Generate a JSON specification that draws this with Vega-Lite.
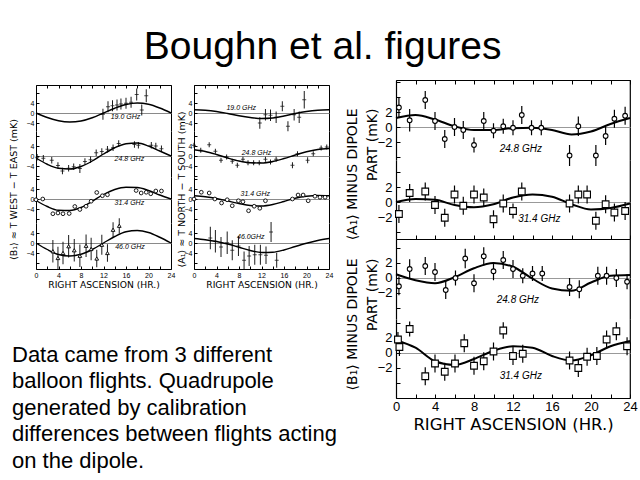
{
"$schema": "https://vega.github.io/schema/vega-lite/v6.json",
"background": "white",
"padding": {"left": 7, "top": 28, "right": 5, "bottom": 0},
"title": {"text": "Boughn et al. figures", "font": "Liberation Sans", "fontSize": 39, "fontWeight": "normal", "color": "black", "anchor": "middle", "offset": 8},
"config": {"view": {"stroke": null}, "axis": {"grid": false, "domainColor": "black", "tickColor": "black", "labelColor": "black", "titleColor": "black", "titleFontWeight": "normal", "labelFlush": false, "labelOverlap": false, "labelBound": false}},
"datasets": {
"notes": [{"line": 1, "t": "Data came from 3 different"}, {"line": 2, "t": "balloon flights.  Quadrupole"}, {"line": 3, "t": "generated by calibration"}, {"line": 4, "t": "differences between flights acting"}, {"line": 5, "t": "on the dipole."}],
"c_L1_19": [{"ra":0,"v":0},{"ra":2,"v":-1.8},{"ra":4,"v":-3.1},{"ra":6,"v":-3.6},{"ra":8,"v":-3.2},{"ra":10,"v":-1.9},{"ra":12,"v":0},{"ra":14,"v":1.9},{"ra":16,"v":3.4},{"ra":18,"v":4.0},{"ra":20,"v":3.5},{"ra":22,"v":2.0},{"ra":24,"v":0}],
"c_L1_24": [{"ra":0,"v":-0.8},{"ra":2,"v":-3.3},{"ra":4,"v":-4.9},{"ra":6,"v":-5.2},{"ra":8,"v":-4.2},{"ra":10,"v":-2.0},{"ra":12,"v":0.8},{"ra":14,"v":3.3},{"ra":16,"v":4.9},{"ra":18,"v":5.2},{"ra":20,"v":4.0},{"ra":22,"v":2.0},{"ra":24,"v":0}],
"c_L1_31": [{"ra":0,"v":-0.6},{"ra":2,"v":-3.0},{"ra":4,"v":-4.5},{"ra":6,"v":-4.6},{"ra":8,"v":-3.4},{"ra":10,"v":-0.9},{"ra":12,"v":1.8},{"ra":14,"v":3.8},{"ra":16,"v":4.7},{"ra":18,"v":4.6},{"ra":20,"v":3.4},{"ra":22,"v":1.6},{"ra":24,"v":0}],
"c_L1_46": [{"ra":0,"v":0},{"ra":2,"v":-2.6},{"ra":4,"v":-4.6},{"ra":6,"v":-5.2},{"ra":8,"v":-4.5},{"ra":10,"v":-2.6},{"ra":12,"v":0},{"ra":14,"v":2.6},{"ra":16,"v":4.5},{"ra":18,"v":5.0},{"ra":20,"v":4.2},{"ra":22,"v":2.3},{"ra":24,"v":0}],
"c_L2_19": [{"ra":0,"v":1.3},{"ra":2,"v":1.1},{"ra":4,"v":0.6},{"ra":6,"v":-0.2},{"ra":8,"v":-1.1},{"ra":10,"v":-1.8},{"ra":12,"v":-2.2},{"ra":14,"v":-2.0},{"ra":16,"v":-1.2},{"ra":18,"v":-0.2},{"ra":20,"v":0.6},{"ra":22,"v":1.1},{"ra":24,"v":1.3}],
"c_L2_24": [{"ra":0,"v":2.5},{"ra":2,"v":1.8},{"ra":4,"v":0.6},{"ra":6,"v":-0.8},{"ra":8,"v":-2.0},{"ra":10,"v":-2.7},{"ra":12,"v":-2.8},{"ra":14,"v":-2.2},{"ra":16,"v":-1.0},{"ra":18,"v":0.4},{"ra":20,"v":1.7},{"ra":22,"v":2.6},{"ra":24,"v":3.0}],
"c_L2_31": [{"ra":0,"v":1.3},{"ra":2,"v":0.9},{"ra":4,"v":0.2},{"ra":6,"v":-0.8},{"ra":8,"v":-1.8},{"ra":10,"v":-2.6},{"ra":12,"v":-2.8},{"ra":14,"v":-2.2},{"ra":16,"v":-1.0},{"ra":18,"v":0.3},{"ra":20,"v":1.1},{"ra":22,"v":1.4},{"ra":24,"v":1.3}],
"c_L2_46": [{"ra":0,"v":1.8},{"ra":2,"v":1.3},{"ra":4,"v":0.6},{"ra":6,"v":-0.4},{"ra":8,"v":-1.7},{"ra":10,"v":-3.0},{"ra":12,"v":-3.8},{"ra":14,"v":-3.7},{"ra":16,"v":-2.8},{"ra":18,"v":-1.4},{"ra":20,"v":-0.1},{"ra":22,"v":1.0},{"ra":24,"v":1.8}],
"c_A24": [{"ra":0,"v":1.2},{"ra":2,"v":1.6},{"ra":4,"v":1.0},{"ra":6,"v":0.1},{"ra":8,"v":-0.4},{"ra":10,"v":-0.4},{"ra":12,"v":-0.15},{"ra":14,"v":-0.1},{"ra":16,"v":-0.4},{"ra":18,"v":-1.0},{"ra":20,"v":-0.6},{"ra":22,"v":0.4},{"ra":24,"v":1.2}],
"c_A31": [{"ra":0,"v":0.0},{"ra":2,"v":0.4},{"ra":4,"v":0.3},{"ra":6,"v":-0.4},{"ra":8,"v":-0.7},{"ra":10,"v":-0.3},{"ra":12,"v":0.6},{"ra":14,"v":1.0},{"ra":16,"v":0.7},{"ra":18,"v":-0.3},{"ra":20,"v":-1.0},{"ra":22,"v":-0.8},{"ra":24,"v":-0.2}],
"c_B24": [{"ra":0,"v":0.5},{"ra":2,"v":-0.3},{"ra":4,"v":-0.7},{"ra":6,"v":0.1},{"ra":8,"v":1.3},{"ra":10,"v":2.0},{"ra":12,"v":1.5},{"ra":14,"v":-0.1},{"ra":16,"v":-1.4},{"ra":18,"v":-1.7},{"ra":20,"v":-0.6},{"ra":22,"v":0.3},{"ra":24,"v":0.4}],
"c_B31": [{"ra":0,"v":1.7},{"ra":2,"v":0.7},{"ra":4,"v":-1.1},{"ra":6,"v":-1.6},{"ra":8,"v":-0.8},{"ra":10,"v":0.3},{"ra":12,"v":0.9},{"ra":14,"v":0.7},{"ra":16,"v":-0.4},{"ra":18,"v":-1.0},{"ra":20,"v":-0.3},{"ra":22,"v":0.9},{"ra":24,"v":1.6}],
"p_L1_19": [{"ra":11.9,"v":-0.5,"lo":-2.7,"hi":1.7},{"ra":12.8,"v":2.5,"lo":0.3,"hi":4.7},{"ra":13.6,"v":2.9,"lo":0.7,"hi":5.1},{"ra":14.4,"v":3.2,"lo":1.0,"hi":5.4},{"ra":15.1,"v":3.6,"lo":1.4,"hi":5.8},{"ra":16.0,"v":3.9,"lo":1.7,"hi":6.1},{"ra":16.9,"v":4.3,"lo":2.1,"hi":6.5},{"ra":17.9,"v":7.4,"lo":5.0,"hi":9.8},{"ra":18.8,"v":1.2,"lo":-1.0,"hi":3.4},{"ra":19.6,"v":6.9,"lo":4.3,"hi":9.5}],
"p_L1_24": [{"ra":0.2,"v":-0.5,"lo":-1.8,"hi":0.8},{"ra":1.3,"v":-0.9,"lo":-2.2,"hi":0.4},{"ra":2.8,"v":-1.7,"lo":-3.0,"hi":-0.4},{"ra":3.9,"v":-3.8,"lo":-5.1,"hi":-2.5},{"ra":4.7,"v":-6.0,"lo":-7.3,"hi":-4.7},{"ra":5.8,"v":-4.9,"lo":-6.2,"hi":-3.6},{"ra":6.7,"v":-4.3,"lo":-5.6,"hi":-3.0},{"ra":7.8,"v":-5.0,"lo":-6.8,"hi":-3.2},{"ra":8.7,"v":-2.2,"lo":-3.5,"hi":-0.9},{"ra":9.7,"v":-1.5,"lo":-2.8,"hi":-0.2},{"ra":10.7,"v":1.3,"lo":0.0,"hi":2.6},{"ra":11.7,"v":1.8,"lo":0.5,"hi":3.1},{"ra":12.7,"v":2.7,"lo":1.4,"hi":4.0},{"ra":13.7,"v":3.3,"lo":2.0,"hi":4.6},{"ra":14.7,"v":5.0,"lo":3.7,"hi":6.3},{"ra":17.5,"v":4.6,"lo":3.3,"hi":5.9},{"ra":18.2,"v":4.3,"lo":3.0,"hi":5.6},{"ra":20.5,"v":4.3,"lo":3.0,"hi":5.6},{"ra":21.3,"v":4.0,"lo":2.7,"hi":5.3},{"ra":22.3,"v":2.9,"lo":1.6,"hi":4.2}],
"p_L1_31": [{"ra":0.0,"v":-0.3},{"ra":1.2,"v":0.0},{"ra":3.0,"v":-5.9},{"ra":3.9,"v":-5.6},{"ra":4.8,"v":-5.9},{"ra":5.9,"v":-5.8},{"ra":6.9,"v":-3.0},{"ra":7.8,"v":-4.2},{"ra":8.9,"v":-2.9},{"ra":9.8,"v":-0.9},{"ra":10.8,"v":2.6},{"ra":11.8,"v":1.3},{"ra":12.7,"v":1.7},{"ra":17.8,"v":3.4},{"ra":18.7,"v":2.4},{"ra":19.6,"v":2.7},{"ra":20.4,"v":2.1},{"ra":21.3,"v":3.2},{"ra":22.3,"v":3.2}],
"p_L1_46": [{"ra":3.0,"v":-3.3,"lo":-7.8,"hi":1.2},{"ra":3.9,"v":-6.0,"lo":-10.5,"hi":-1.5},{"ra":4.8,"v":-4.0,"lo":-8.5,"hi":0.5},{"ra":5.8,"v":-1.3,"lo":-5.8,"hi":3.2},{"ra":6.8,"v":-2.9,"lo":-7.4,"hi":1.6},{"ra":7.8,"v":-5.1,"lo":-9.6,"hi":-0.6},{"ra":8.9,"v":-1.1,"lo":-5.6,"hi":3.4},{"ra":9.8,"v":-2.4,"lo":-6.9,"hi":2.1},{"ra":10.8,"v":-6.2,"lo":-9.7,"hi":-2.7},{"ra":11.7,"v":-0.7,"lo":-4.7,"hi":3.3},{"ra":12.7,"v":-4.0,"lo":-7.5,"hi":-0.5},{"ra":13.7,"v":5.3,"lo":2.3,"hi":8.3},{"ra":14.8,"v":6.9,"lo":3.9,"hi":9.9}],
"p_L2_19": [{"ra":11.7,"v":-4.0,"lo":-6.3,"hi":-1.7},{"ra":12.7,"v":-0.7,"lo":-3.0,"hi":1.6},{"ra":13.6,"v":-0.9,"lo":-3.2,"hi":1.4},{"ra":14.6,"v":-1.7,"lo":-4.0,"hi":0.6},{"ra":15.7,"v":2.7,"lo":0.7,"hi":4.7},{"ra":16.7,"v":-5.3,"lo":-7.3,"hi":-3.3},{"ra":17.8,"v":-0.7,"lo":-3.0,"hi":1.6},{"ra":18.7,"v":-1.7,"lo":-4.0,"hi":0.6},{"ra":19.6,"v":5.3,"lo":1.8,"hi":8.8}],
"p_L2_24": [{"ra":0.0,"v":4.3,"lo":3.3,"hi":5.3},{"ra":1.2,"v":2.3,"lo":1.3,"hi":3.3},{"ra":2.7,"v":4.5,"lo":3.5,"hi":5.5},{"ra":3.8,"v":1.9,"lo":0.9,"hi":2.9},{"ra":4.8,"v":-1.7,"lo":-2.7,"hi":-0.7},{"ra":5.8,"v":-0.4,"lo":-1.4,"hi":0.6},{"ra":6.8,"v":-2.1,"lo":-3.1,"hi":-1.1},{"ra":7.7,"v":-3.7,"lo":-4.7,"hi":-2.7},{"ra":8.7,"v":-1.3,"lo":-2.3,"hi":-0.3},{"ra":9.6,"v":-2.7,"lo":-3.7,"hi":-1.7},{"ra":10.6,"v":-2.7,"lo":-3.7,"hi":-1.7},{"ra":11.6,"v":-2.7,"lo":-3.7,"hi":-1.7},{"ra":12.7,"v":-1.3,"lo":-2.3,"hi":-0.3},{"ra":13.6,"v":-2.4,"lo":-3.4,"hi":-1.4},{"ra":14.6,"v":-1.3,"lo":-2.3,"hi":-0.3},{"ra":17.5,"v":-3.7,"lo":-4.9,"hi":-2.5},{"ra":18.4,"v":0.9,"lo":-0.1,"hi":1.9},{"ra":20.2,"v":-1.7,"lo":-2.9,"hi":-0.5},{"ra":21.2,"v":0.9,"lo":-0.1,"hi":1.9},{"ra":22.6,"v":3.2,"lo":2.2,"hi":4.2},{"ra":23.6,"v":3.6,"lo":2.6,"hi":4.6}],
"p_L2_31": [{"ra":0.0,"v":0.0},{"ra":1.3,"v":2.7},{"ra":2.7,"v":2.4},{"ra":3.7,"v":0.0},{"ra":4.9,"v":-1.6},{"ra":5.9,"v":-0.3},{"ra":6.8,"v":-2.7},{"ra":7.9,"v":-0.7},{"ra":8.7,"v":-1.1},{"ra":9.7,"v":-4.7},{"ra":10.7,"v":-2.9},{"ra":11.7,"v":-3.7},{"ra":12.7,"v":-0.7},{"ra":17.5,"v":0.0},{"ra":18.5,"v":1.6},{"ra":19.4,"v":1.6},{"ra":20.3,"v":-0.7},{"ra":21.5,"v":1.1},{"ra":22.4,"v":0.7},{"ra":23.3,"v":0.7}],
"p_L2_46": [{"ra":2.9,"v":2.0,"lo":-2.5,"hi":6.5},{"ra":3.8,"v":0.7,"lo":-3.8,"hi":5.2},{"ra":4.8,"v":-1.6,"lo":-5.6,"hi":2.4},{"ra":5.9,"v":0.1,"lo":-4.4,"hi":4.6},{"ra":6.8,"v":-2.9,"lo":-6.9,"hi":1.1},{"ra":7.9,"v":-1.2,"lo":-5.2,"hi":2.8},{"ra":8.9,"v":-6.9,"lo":-10.4,"hi":-3.4},{"ra":9.8,"v":-5.2,"lo":-9.2,"hi":-1.2},{"ra":10.8,"v":-4.7,"lo":-8.7,"hi":-0.7},{"ra":11.8,"v":-4.7,"lo":-8.7,"hi":-0.7},{"ra":12.8,"v":-4.9,"lo":-8.4,"hi":-1.4},{"ra":13.7,"v":4.4,"lo":0.4,"hi":8.4},{"ra":14.7,"v":-6.9,"lo":-9.9,"hi":-3.9}],
"p_A24": [{"ra":0.3,"v":2.6,"lo":1.3,"hi":3.9},{"ra":1.4,"v":0.9,"lo":-0.6,"hi":2.4},{"ra":3.0,"v":3.6,"lo":2.4,"hi":4.8},{"ra":4.0,"v":0.8,"lo":-0.4,"hi":2.0},{"ra":5.0,"v":-1.6,"lo":-2.8,"hi":-0.4},{"ra":6.0,"v":0.0,"lo":-1.2,"hi":1.2},{"ra":6.9,"v":-0.4,"lo":-1.6,"hi":0.8},{"ra":8.0,"v":-2.4,"lo":-3.4,"hi":-1.4},{"ra":9.0,"v":0.8,"lo":-0.4,"hi":2.0},{"ra":10.0,"v":-0.5,"lo":-1.5,"hi":0.5},{"ra":11.0,"v":0.1,"lo":-0.9,"hi":1.1},{"ra":12.0,"v":-0.1,"lo":-1.1,"hi":0.9},{"ra":12.9,"v":1.6,"lo":0.4,"hi":2.8},{"ra":13.9,"v":-0.1,"lo":-1.1,"hi":0.9},{"ra":14.9,"v":-0.1,"lo":-1.1,"hi":0.9},{"ra":17.8,"v":-3.8,"lo":-5.2,"hi":-2.4},{"ra":18.7,"v":0.1,"lo":-1.2,"hi":1.4},{"ra":20.5,"v":-3.8,"lo":-5.2,"hi":-2.4},{"ra":21.5,"v":-1.2,"lo":-2.4,"hi":0.0},{"ra":22.4,"v":1.1,"lo":-0.1,"hi":2.3},{"ra":23.5,"v":1.5,"lo":0.3,"hi":2.7}],
"p_A31": [{"ra":0.3,"v":-1.6,"lo":-2.8,"hi":-0.4},{"ra":1.4,"v":1.2,"lo":0.0,"hi":2.4},{"ra":3.0,"v":1.4,"lo":0.2,"hi":2.6},{"ra":4.0,"v":-0.4,"lo":-1.6,"hi":0.8},{"ra":5.0,"v":-2.1,"lo":-3.3,"hi":-0.9},{"ra":6.0,"v":1.0,"lo":-0.2,"hi":2.2},{"ra":6.9,"v":-0.5,"lo":-1.7,"hi":0.7},{"ra":8.0,"v":1.0,"lo":-0.2,"hi":2.2},{"ra":9.0,"v":0.6,"lo":-0.6,"hi":1.8},{"ra":10.0,"v":-2.3,"lo":-3.5,"hi":-1.1},{"ra":11.0,"v":-0.2,"lo":-1.4,"hi":1.0},{"ra":12.0,"v":-1.2,"lo":-2.2,"hi":-0.2},{"ra":12.9,"v":1.4,"lo":0.2,"hi":2.6},{"ra":17.8,"v":-0.2,"lo":-1.4,"hi":1.0},{"ra":18.7,"v":1.0,"lo":-0.2,"hi":2.2},{"ra":19.6,"v":1.0,"lo":-0.2,"hi":2.2},{"ra":20.5,"v":-2.5,"lo":-3.7,"hi":-1.3},{"ra":21.5,"v":-0.3,"lo":-1.5,"hi":0.9},{"ra":22.4,"v":-1.4,"lo":-2.6,"hi":-0.2},{"ra":23.5,"v":-1.2,"lo":-2.4,"hi":0.0}],
"p_B24": [{"ra":0.3,"v":-1.1,"lo":-2.3,"hi":0.2},{"ra":1.4,"v":1.2,"lo":-0.1,"hi":2.5},{"ra":3.0,"v":1.6,"lo":0.4,"hi":2.8},{"ra":4.0,"v":0.8,"lo":-0.4,"hi":2.0},{"ra":5.1,"v":-1.6,"lo":-2.8,"hi":-0.4},{"ra":6.1,"v":0.0,"lo":-1.0,"hi":1.0},{"ra":7.1,"v":2.6,"lo":1.3,"hi":3.9},{"ra":8.0,"v":-0.7,"lo":-1.9,"hi":0.5},{"ra":9.0,"v":2.9,"lo":1.7,"hi":4.1},{"ra":10.0,"v":0.9,"lo":-0.3,"hi":2.1},{"ra":11.0,"v":2.4,"lo":1.2,"hi":3.6},{"ra":12.0,"v":1.2,"lo":0.0,"hi":2.4},{"ra":13.0,"v":0.3,"lo":-0.7,"hi":1.3},{"ra":14.0,"v":0.6,"lo":-0.4,"hi":1.6},{"ra":15.0,"v":0.6,"lo":-0.4,"hi":1.6},{"ra":17.8,"v":-1.2,"lo":-2.4,"hi":0.0},{"ra":18.8,"v":-1.5,"lo":-2.7,"hi":-0.3},{"ra":20.7,"v":0.3,"lo":-0.9,"hi":1.5},{"ra":21.6,"v":0.3,"lo":-0.9,"hi":1.5},{"ra":22.6,"v":0.0,"lo":-1.2,"hi":1.2},{"ra":23.7,"v":-0.5,"lo":-1.5,"hi":0.5}],
"p_B31": [{"ra":0.2,"v":1.8,"lo":0.8,"hi":2.8},{"ra":0.35,"v":0.8,"lo":-0.4,"hi":2.0},{"ra":1.4,"v":3.2,"lo":2.2,"hi":4.2},{"ra":3.0,"v":-3.1,"lo":-4.3,"hi":-1.9},{"ra":4.0,"v":-1.4,"lo":-2.6,"hi":-0.2},{"ra":5.0,"v":-2.5,"lo":-3.7,"hi":-1.3},{"ra":6.05,"v":-1.4,"lo":-2.6,"hi":-0.2},{"ra":7.0,"v":1.3,"lo":0.1,"hi":2.5},{"ra":8.0,"v":-1.7,"lo":-2.9,"hi":-0.5},{"ra":9.0,"v":-1.1,"lo":-2.3,"hi":0.1},{"ra":10.0,"v":0.2,"lo":-1.0,"hi":1.4},{"ra":11.0,"v":3.0,"lo":1.9,"hi":4.1},{"ra":12.0,"v":-0.4,"lo":-1.6,"hi":0.8},{"ra":13.0,"v":-0.1,"lo":-1.3,"hi":1.1},{"ra":17.8,"v":-1.0,"lo":-2.2,"hi":0.2},{"ra":18.7,"v":-2.0,"lo":-3.2,"hi":-0.8},{"ra":19.6,"v":-0.5,"lo":-1.7,"hi":0.7},{"ra":20.6,"v":-0.4,"lo":-1.6,"hi":0.8},{"ra":21.6,"v":1.8,"lo":0.6,"hi":3.0},{"ra":22.6,"v":2.9,"lo":1.7,"hi":4.1},{"ra":23.7,"v":0.9,"lo":-0.3,"hi":2.1}]
},
"hconcat": [
{"vconcat": [
 {"hconcat": [
  {"vconcat": [
   {"width": 135, "height": 5, "data": {"values": [{}]}, "mark": {"type": "text", "text": ""}, "encoding": {}},
   {"width": 135, "height": 46, "view": {"stroke": "black", "strokeWidth": 1, "strokeDash": [0, 135, 46, 181]},
    "encoding": {"x": {"field": "ra", "type": "quantitative", "scale": {"domain": [0, 24], "nice": false}, "axis": {"orient": "top", "values": [0,2,4,6,8,10,12,14,16,18,20,22,24], "labels": false, "tickSize": -3, "title": null}},
                 "y": {"field": "v", "type": "quantitative", "scale": {"domain": [-7.2, 11.2], "nice": false, "zero": false}, "axis": {"values": [-4, 0, 4, 8], "labelExpr": "abs(datum.value) <= 4 ? datum.label : ''", "tickSize": -3, "labelPadding": 5, "labelFontSize": 7, "labelFont": "Liberation Sans", "grid": true, "gridColor": {"condition": {"test": "datum.value === 0", "value": "#8a8a8a"}, "value": "transparent"}, "title": "⟨B₁⟩ ≈ T WEST − T EAST (mK)", "titleFont": "DejaVu Sans", "titleFontSize": 9.5, "titleAngle": 270, "titleAlign": "center", "titleBaseline": "middle", "titleX": -23, "titleY": 104}}},
    "layer": [
     {"data": {"name": "c_L1_19"}, "mark": {"type": "line", "interpolate": "monotone", "color": "black", "strokeWidth": 1.4}},
     {"data": {"name": "p_L1_19"}, "mark": {"type": "rule", "color": "black", "strokeWidth": 0.9}, "encoding": {"y2": {"field": "lo"}}},
     {"data": {"name": "p_L1_19"}, "mark": {"type": "rule", "color": "black", "strokeWidth": 0.9}, "encoding": {"y2": {"field": "hi"}}},
     {"data": {"name": "p_L1_19"}, "mark": {"type": "tick", "orient": "horizontal", "size": 4, "thickness": 1, "color": "black"}},
     {"data": {"values": [{"ra": 15.9, "v": -1.4, "t": "19.0 GHz"}]}, "mark": {"type": "text", "font": "Liberation Sans", "fontStyle": "italic", "fontSize": 7, "baseline": "middle", "color": "black"}, "encoding": {"text": {"field": "t"}}}
    ]},
   {"width": 135, "height": 46, "view": {"stroke": "black", "strokeWidth": 1, "strokeDash": [0, 135, 46, 181]},
    "encoding": {"x": {"field": "ra", "type": "quantitative", "scale": {"domain": [0, 24], "nice": false}, "axis": null},
                 "y": {"field": "v", "type": "quantitative", "scale": {"domain": [-8.4, 10], "nice": false, "zero": false}, "axis": {"values": [-8, -4, 0, 4, 8], "labelExpr": "abs(datum.value) <= 4 ? datum.label : ''", "tickSize": -3, "labelPadding": 5, "labelFontSize": 7, "labelFont": "Liberation Sans", "grid": true, "gridColor": {"condition": {"test": "datum.value === 0", "value": "#8a8a8a"}, "value": "transparent"}, "title": null}}},
    "layer": [
     {"data": {"name": "c_L1_24"}, "mark": {"type": "line", "interpolate": "monotone", "color": "black", "strokeWidth": 1.4}},
     {"data": {"name": "p_L1_24"}, "mark": {"type": "rule", "color": "black", "strokeWidth": 0.9}, "encoding": {"y2": {"field": "lo"}}},
     {"data": {"name": "p_L1_24"}, "mark": {"type": "rule", "color": "black", "strokeWidth": 0.9}, "encoding": {"y2": {"field": "hi"}}},
     {"data": {"name": "p_L1_24"}, "mark": {"type": "tick", "orient": "horizontal", "size": 4, "thickness": 1, "color": "black"}},
     {"data": {"values": [{"ra": 16.6, "v": -1.3, "t": "24.8 GHz"}]}, "mark": {"type": "text", "font": "Liberation Sans", "fontStyle": "italic", "fontSize": 7, "baseline": "middle", "color": "black"}, "encoding": {"text": {"field": "t"}}}
    ]},
   {"width": 135, "height": 46, "view": {"stroke": "black", "strokeWidth": 1, "strokeDash": [0, 135, 46, 181]},
    "encoding": {"x": {"field": "ra", "type": "quantitative", "scale": {"domain": [0, 24], "nice": false}, "axis": null},
                 "y": {"field": "v", "type": "quantitative", "scale": {"domain": [-9.6, 8.8], "nice": false, "zero": false}, "axis": {"values": [-8, -4, 0, 4, 8], "labelExpr": "abs(datum.value) <= 4 ? datum.label : ''", "tickSize": -3, "labelPadding": 5, "labelFontSize": 7, "labelFont": "Liberation Sans", "grid": true, "gridColor": {"condition": {"test": "datum.value === 0", "value": "#8a8a8a"}, "value": "transparent"}, "title": null}}},
    "layer": [
     {"data": {"name": "c_L1_31"}, "mark": {"type": "line", "interpolate": "monotone", "color": "black", "strokeWidth": 1.4}},
     {"data": {"name": "p_L1_31"}, "mark": {"type": "point", "shape": "circle", "filled": true, "fill": "white", "stroke": "black", "strokeWidth": 0.9, "size": 14, "opacity": 1}},
     {"data": {"values": [{"ra": 16.6, "v": -1.4, "t": "31.4 GHz"}]}, "mark": {"type": "text", "font": "Liberation Sans", "fontStyle": "italic", "fontSize": 7, "baseline": "middle", "color": "black"}, "encoding": {"text": {"field": "t"}}}
    ]},
   {"width": 135, "height": 46, "view": {"stroke": "black", "strokeWidth": 1, "strokeDash": [0, 135, 46, 181]},
    "encoding": {"x": {"field": "ra", "type": "quantitative", "scale": {"domain": [0, 24], "nice": false}, "axis": {"values": [0,2,4,6,8,10,12,14,16,18,20,22,24], "labelExpr": "datum.value % 4 === 0 ? datum.label : ''", "tickSize": -3, "labelPadding": 5, "labelFontSize": 7, "labelFont": "Liberation Sans", "title": "RIGHT ASCENSION (HR.)", "titleFont": "DejaVu Sans", "titleFontSize": 9.2, "titlePadding": 2}},
                 "y": {"field": "v", "type": "quantitative", "scale": {"domain": [-10.4, 8], "nice": false, "zero": false}, "axis": {"values": [-8, -4, 0, 4], "labelExpr": "abs(datum.value) <= 4 ? datum.label : ''", "tickSize": -3, "labelPadding": 5, "labelFontSize": 7, "labelFont": "Liberation Sans", "grid": true, "gridColor": {"condition": {"test": "datum.value === 0", "value": "#8a8a8a"}, "value": "transparent"}, "title": null}}},
    "layer": [
     {"data": {"name": "c_L1_46"}, "mark": {"type": "line", "interpolate": "monotone", "color": "black", "strokeWidth": 1.4}},
     {"data": {"name": "p_L1_46"}, "mark": {"type": "rule", "color": "black", "strokeWidth": 0.9}, "encoding": {"y2": {"field": "lo"}}},
     {"data": {"name": "p_L1_46"}, "mark": {"type": "rule", "color": "black", "strokeWidth": 0.9}, "encoding": {"y2": {"field": "hi"}}},
     {"data": {"name": "p_L1_46"}, "mark": {"type": "point", "shape": "triangle-up", "filled": true, "fill": "white", "stroke": "black", "strokeWidth": 0.9, "size": 14, "opacity": 1}},
     {"data": {"values": [{"ra": 16.7, "v": -1.6, "t": "46.0 GHz"}]}, "mark": {"type": "text", "font": "Liberation Sans", "fontStyle": "italic", "fontSize": 7, "baseline": "middle", "color": "black"}, "encoding": {"text": {"field": "t"}}}
    ]}
  ], "spacing": 0, "bounds": "flush"},
  {"vconcat": [
   {"width": 135, "height": 5, "data": {"values": [{}]}, "mark": {"type": "text", "text": ""}, "encoding": {}},
   {"width": 135, "height": 46, "view": {"stroke": "black", "strokeWidth": 1, "strokeDash": [0, 135, 46, 181]},
    "encoding": {"x": {"field": "ra", "type": "quantitative", "scale": {"domain": [0, 24], "nice": false}, "axis": {"orient": "top", "values": [0,2,4,6,8,10,12,14,16,18,20,22,24], "labels": false, "tickSize": -3, "title": null}},
                 "y": {"field": "v", "type": "quantitative", "scale": {"domain": [-7.2, 11.2], "nice": false, "zero": false}, "axis": {"values": [-4, 0, 4, 8], "labelExpr": "abs(datum.value) <= 4 ? datum.label : ''", "tickSize": -3, "labelPadding": 5, "labelFontSize": 7, "labelFont": "Liberation Sans", "grid": true, "gridColor": {"condition": {"test": "datum.value === 0", "value": "#8a8a8a"}, "value": "transparent"}, "title": "⟨A₁⟩ ≈ T NORTH − T SOUTH (mK)", "titleFont": "DejaVu Sans", "titleFontSize": 9.5, "titleAngle": 270, "titleAlign": "center", "titleBaseline": "middle", "titleX": -13, "titleY": 104}}},
    "layer": [
     {"data": {"name": "c_L2_19"}, "mark": {"type": "line", "interpolate": "monotone", "color": "black", "strokeWidth": 1.4}},
     {"data": {"name": "p_L2_19"}, "mark": {"type": "rule", "color": "black", "strokeWidth": 0.9}, "encoding": {"y2": {"field": "lo"}}},
     {"data": {"name": "p_L2_19"}, "mark": {"type": "rule", "color": "black", "strokeWidth": 0.9}, "encoding": {"y2": {"field": "hi"}}},
     {"data": {"name": "p_L2_19"}, "mark": {"type": "tick", "orient": "horizontal", "size": 4, "thickness": 1, "color": "black"}},
     {"data": {"values": [{"ra": 8.4, "v": 1.9, "t": "19.0 GHz"}]}, "mark": {"type": "text", "font": "Liberation Sans", "fontStyle": "italic", "fontSize": 7, "baseline": "middle", "color": "black"}, "encoding": {"text": {"field": "t"}}}
    ]},
   {"width": 135, "height": 46, "view": {"stroke": "black", "strokeWidth": 1, "strokeDash": [0, 135, 46, 181]},
    "encoding": {"x": {"field": "ra", "type": "quantitative", "scale": {"domain": [0, 24], "nice": false}, "axis": null},
                 "y": {"field": "v", "type": "quantitative", "scale": {"domain": [-8.4, 10], "nice": false, "zero": false}, "axis": {"values": [-8, -4, 0, 4, 8], "labelExpr": "abs(datum.value) <= 4 ? datum.label : ''", "tickSize": -3, "labelPadding": 5, "labelFontSize": 7, "labelFont": "Liberation Sans", "grid": true, "gridColor": {"condition": {"test": "datum.value === 0", "value": "#8a8a8a"}, "value": "transparent"}, "title": null}}},
    "layer": [
     {"data": {"name": "c_L2_24"}, "mark": {"type": "line", "interpolate": "monotone", "color": "black", "strokeWidth": 1.4}},
     {"data": {"name": "p_L2_24"}, "mark": {"type": "rule", "color": "black", "strokeWidth": 0.9}, "encoding": {"y2": {"field": "lo"}}},
     {"data": {"name": "p_L2_24"}, "mark": {"type": "rule", "color": "black", "strokeWidth": 0.9}, "encoding": {"y2": {"field": "hi"}}},
     {"data": {"name": "p_L2_24"}, "mark": {"type": "tick", "orient": "horizontal", "size": 4, "thickness": 1, "color": "black"}},
     {"data": {"values": [{"ra": 11.1, "v": 1.4, "t": "24.8 GHz"}]}, "mark": {"type": "text", "font": "Liberation Sans", "fontStyle": "italic", "fontSize": 7, "baseline": "middle", "color": "black"}, "encoding": {"text": {"field": "t"}}}
    ]},
   {"width": 135, "height": 46, "view": {"stroke": "black", "strokeWidth": 1, "strokeDash": [0, 135, 46, 181]},
    "encoding": {"x": {"field": "ra", "type": "quantitative", "scale": {"domain": [0, 24], "nice": false}, "axis": null},
                 "y": {"field": "v", "type": "quantitative", "scale": {"domain": [-9.6, 8.8], "nice": false, "zero": false}, "axis": {"values": [-8, -4, 0, 4, 8], "labelExpr": "abs(datum.value) <= 4 ? datum.label : ''", "tickSize": -3, "labelPadding": 5, "labelFontSize": 7, "labelFont": "Liberation Sans", "grid": true, "gridColor": {"condition": {"test": "datum.value === 0", "value": "#8a8a8a"}, "value": "transparent"}, "title": null}}},
    "layer": [
     {"data": {"name": "c_L2_31"}, "mark": {"type": "line", "interpolate": "monotone", "color": "black", "strokeWidth": 1.4}},
     {"data": {"name": "p_L2_31"}, "mark": {"type": "point", "shape": "circle", "filled": true, "fill": "white", "stroke": "black", "strokeWidth": 0.9, "size": 14, "opacity": 1}},
     {"data": {"values": [{"ra": 10.9, "v": 2.2, "t": "31.4 GHz"}]}, "mark": {"type": "text", "font": "Liberation Sans", "fontStyle": "italic", "fontSize": 7, "baseline": "middle", "color": "black"}, "encoding": {"text": {"field": "t"}}}
    ]},
   {"width": 135, "height": 46, "view": {"stroke": "black", "strokeWidth": 1, "strokeDash": [0, 135, 46, 181]},
    "encoding": {"x": {"field": "ra", "type": "quantitative", "scale": {"domain": [0, 24], "nice": false}, "axis": {"values": [0,2,4,6,8,10,12,14,16,18,20,22,24], "labelExpr": "datum.value % 4 === 0 ? datum.label : ''", "tickSize": -3, "labelPadding": 5, "labelFontSize": 7, "labelFont": "Liberation Sans", "title": "RIGHT ASCENSION (HR.)", "titleFont": "DejaVu Sans", "titleFontSize": 9.2, "titlePadding": 2}},
                 "y": {"field": "v", "type": "quantitative", "scale": {"domain": [-10.4, 8], "nice": false, "zero": false}, "axis": {"values": [-8, -4, 0, 4], "labelExpr": "abs(datum.value) <= 4 ? datum.label : ''", "tickSize": -3, "labelPadding": 5, "labelFontSize": 7, "labelFont": "Liberation Sans", "grid": true, "gridColor": {"condition": {"test": "datum.value === 0", "value": "#8a8a8a"}, "value": "transparent"}, "title": null}}},
    "layer": [
     {"data": {"name": "c_L2_46"}, "mark": {"type": "line", "interpolate": "monotone", "color": "black", "strokeWidth": 1.4}},
     {"data": {"name": "p_L2_46"}, "mark": {"type": "rule", "color": "black", "strokeWidth": 0.9}, "encoding": {"y2": {"field": "lo"}}},
     {"data": {"name": "p_L2_46"}, "mark": {"type": "rule", "color": "black", "strokeWidth": 0.9}, "encoding": {"y2": {"field": "hi"}}},
     {"data": {"name": "p_L2_46"}, "mark": {"type": "tick", "orient": "horizontal", "size": 4, "thickness": 1, "color": "black"}},
     {"data": {"values": [{"ra": 10.1, "v": 2.5, "t": "46.0GHz"}]}, "mark": {"type": "text", "font": "Liberation Sans", "fontStyle": "italic", "fontSize": 7, "baseline": "middle", "color": "black"}, "encoding": {"text": {"field": "t"}}}
    ]}
  ], "spacing": 0, "bounds": "flush"}
 ], "spacing": 158, "bounds": "flush"},
 {"width": 300, "height": 208, "data": {"name": "notes"},
  "mark": {"type": "text", "align": "left", "baseline": "alphabetic", "font": "Liberation Sans", "fontSize": 22, "color": "black", "dx": -24},
  "encoding": {"x": {"datum": 0, "scale": {"domain": [0, 1]}, "axis": null},
               "y": {"field": "line", "type": "quantitative", "scale": {"domain": [-2.523, 5.356], "reverse": true, "nice": false, "zero": false}, "axis": null},
               "text": {"field": "t"}}}
], "spacing": 189, "bounds": "flush"},
{"vconcat": [
 {"width": 234, "height": 80, "view": {"stroke": "black", "strokeWidth": 1.2, "strokeDash": [0, 234, 80, 314]},
  "encoding": {"x": {"field": "ra", "type": "quantitative", "scale": {"domain": [0, 24], "nice": false}, "axis": {"orient": "top", "values": [0,2,4,6,8,10,12,14,16,18,20,22,24], "labels": false, "tickSize": -4, "title": null, "domainWidth": 1.2}},
               "y": {"field": "v", "type": "quantitative", "scale": {"domain": [-4.4, 6.27], "nice": false, "zero": false}, "axis": {"values": [-4, -2, 0, 2, 4, 6], "labelExpr": "abs(datum.value) <= 2 ? datum.label : ''", "tickSize": -4, "labelPadding": 8, "labelFontSize": 13, "labelFont": "Liberation Sans", "domainWidth": 1.2, "grid": true, "gridColor": {"condition": {"test": "datum.value === 0", "value": "#999999"}, "value": "transparent"}, "title": ["⟨A₁⟩ MINUS DIPOLE", "PART (mK)"], "titleFont": "DejaVu Sans", "titleFontSize": 14, "titleLineHeight": 20, "titleAngle": 270, "titleAlign": "right", "titleBaseline": "top", "titleX": -51, "titleY": 28}}},
  "layer": [
   {"data": {"name": "c_A24"}, "mark": {"type": "line", "interpolate": "monotone", "color": "black", "strokeWidth": 2}},
   {"data": {"name": "p_A24"}, "mark": {"type": "rule", "color": "black", "strokeWidth": 1.2}, "encoding": {"y2": {"field": "lo"}}},
   {"data": {"name": "p_A24"}, "mark": {"type": "rule", "color": "black", "strokeWidth": 1.2}, "encoding": {"y2": {"field": "hi"}}},
   {"data": {"name": "p_A24"}, "mark": {"type": "point", "shape": "circle", "filled": true, "fill": "white", "stroke": "black", "strokeWidth": 1.1, "size": 22, "opacity": 1}},
   {"data": {"values": [{"ra": 12.8, "v": -2.9, "t": "24.8 GHz"}]}, "mark": {"type": "text", "font": "Liberation Sans", "fontStyle": "italic", "fontSize": 10, "baseline": "middle", "color": "black"}, "encoding": {"text": {"field": "t"}}}
  ]},
 {"width": 234, "height": 79, "view": {"stroke": "black", "strokeWidth": 1.2, "strokeDash": [0, 234, 79, 313]},
  "encoding": {"x": {"field": "ra", "type": "quantitative", "scale": {"domain": [0, 24], "nice": false}, "axis": {"values": [0,2,4,6,8,10,12,14,16,18,20,22,24], "labels": false, "tickSize": -4, "title": null, "domainWidth": 1.2}},
               "y": {"field": "v", "type": "quantitative", "scale": {"domain": [-4.93, 5.6], "nice": false, "zero": false}, "axis": {"values": [-4, -2, 0, 2, 4], "labelExpr": "abs(datum.value) <= 2 ? datum.label : ''", "tickSize": -4, "labelPadding": 8, "labelFontSize": 13, "labelFont": "Liberation Sans", "domainWidth": 1.2, "grid": true, "gridColor": {"condition": {"test": "datum.value === 0", "value": "#999999"}, "value": "transparent"}, "title": null}}},
  "layer": [
   {"data": {"name": "c_A31"}, "mark": {"type": "line", "interpolate": "monotone", "color": "black", "strokeWidth": 2}},
   {"data": {"name": "p_A31"}, "mark": {"type": "rule", "color": "black", "strokeWidth": 1.2}, "encoding": {"y2": {"field": "lo"}}},
   {"data": {"name": "p_A31"}, "mark": {"type": "rule", "color": "black", "strokeWidth": 1.2}, "encoding": {"y2": {"field": "hi"}}},
   {"data": {"name": "p_A31"}, "mark": {"type": "point", "shape": "square", "filled": true, "fill": "white", "stroke": "black", "strokeWidth": 1.1, "size": 45, "opacity": 1}},
   {"data": {"values": [{"ra": 14.7, "v": -2.3, "t": "31.4 GHz"}]}, "mark": {"type": "text", "font": "Liberation Sans", "fontStyle": "italic", "fontSize": 10, "baseline": "middle", "color": "black"}, "encoding": {"text": {"field": "t"}}}
  ]},
 {"width": 234, "height": 80, "view": {"stroke": "black", "strokeWidth": 1.2, "strokeDash": [0, 234, 80, 314]},
  "encoding": {"x": {"field": "ra", "type": "quantitative", "scale": {"domain": [0, 24], "nice": false}, "axis": null},
               "y": {"field": "v", "type": "quantitative", "scale": {"domain": [-5.47, 5.2], "nice": false, "zero": false}, "axis": {"values": [-4, -2, 0, 2, 4], "labelExpr": "abs(datum.value) <= 2 ? datum.label : ''", "tickSize": -4, "labelPadding": 8, "labelFontSize": 13, "labelFont": "Liberation Sans", "domainWidth": 1.2, "grid": true, "gridColor": {"condition": {"test": "datum.value === 0", "value": "#999999"}, "value": "transparent"}, "title": ["⟨B₁⟩ MINUS DIPOLE", "PART (mK)"], "titleFont": "DejaVu Sans", "titleFontSize": 14, "titleLineHeight": 20, "titleAngle": 270, "titleAlign": "right", "titleBaseline": "top", "titleX": -51, "titleY": 19}}},
  "layer": [
   {"data": {"name": "c_B24"}, "mark": {"type": "line", "interpolate": "monotone", "color": "black", "strokeWidth": 2}},
   {"data": {"name": "p_B24"}, "mark": {"type": "rule", "color": "black", "strokeWidth": 1.2}, "encoding": {"y2": {"field": "lo"}}},
   {"data": {"name": "p_B24"}, "mark": {"type": "rule", "color": "black", "strokeWidth": 1.2}, "encoding": {"y2": {"field": "hi"}}},
   {"data": {"name": "p_B24"}, "mark": {"type": "point", "shape": "circle", "filled": true, "fill": "white", "stroke": "black", "strokeWidth": 1.1, "size": 22, "opacity": 1}},
   {"data": {"values": [{"ra": 12.5, "v": -3.0, "t": "24.8 GHz"}]}, "mark": {"type": "text", "font": "Liberation Sans", "fontStyle": "italic", "fontSize": 10, "baseline": "middle", "color": "black"}, "encoding": {"text": {"field": "t"}}}
  ]},
 {"width": 234, "height": 79, "view": {"stroke": "black", "strokeWidth": 1.2, "strokeDash": [0, 234, 79, 313]},
  "encoding": {"x": {"field": "ra", "type": "quantitative", "scale": {"domain": [0, 24], "nice": false}, "axis": {"values": [0,2,4,6,8,10,12,14,16,18,20,22,24], "labelExpr": "datum.value % 4 === 0 ? datum.label : ''", "tickSize": -4, "labelPadding": 6, "labelFontSize": 13, "labelFont": "Liberation Sans", "title": "RIGHT ASCENSION (HR.)", "titleFont": "DejaVu Sans", "titleFontSize": 16.5, "titlePadding": 3, "domainWidth": 1.2}},
               "y": {"field": "v", "type": "quantitative", "scale": {"domain": [-6, 4.53], "nice": false, "zero": false}, "axis": {"values": [-6, -4, -2, 0, 2, 4], "labelExpr": "abs(datum.value) <= 2 ? datum.label : ''", "tickSize": -4, "labelPadding": 8, "labelFontSize": 13, "labelFont": "Liberation Sans", "domainWidth": 1.2, "grid": true, "gridColor": {"condition": {"test": "datum.value === 0", "value": "#999999"}, "value": "transparent"}, "title": null}}},
  "layer": [
   {"data": {"name": "c_B31"}, "mark": {"type": "line", "interpolate": "monotone", "color": "black", "strokeWidth": 2}},
   {"data": {"name": "p_B31"}, "mark": {"type": "rule", "color": "black", "strokeWidth": 1.2}, "encoding": {"y2": {"field": "lo"}}},
   {"data": {"name": "p_B31"}, "mark": {"type": "rule", "color": "black", "strokeWidth": 1.2}, "encoding": {"y2": {"field": "hi"}}},
   {"data": {"name": "p_B31"}, "mark": {"type": "point", "shape": "square", "filled": true, "fill": "white", "stroke": "black", "strokeWidth": 1.1, "size": 45, "opacity": 1}},
   {"data": {"values": [{"ra": 12.8, "v": -3.1, "t": "31.4 GHz"}]}, "mark": {"type": "text", "font": "Liberation Sans", "fontStyle": "italic", "fontSize": 10, "baseline": "middle", "color": "black"}, "encoding": {"text": {"field": "t"}}}
  ]}
], "spacing": 0, "bounds": "flush"}
], "spacing": 360, "bounds": "flush"
}
